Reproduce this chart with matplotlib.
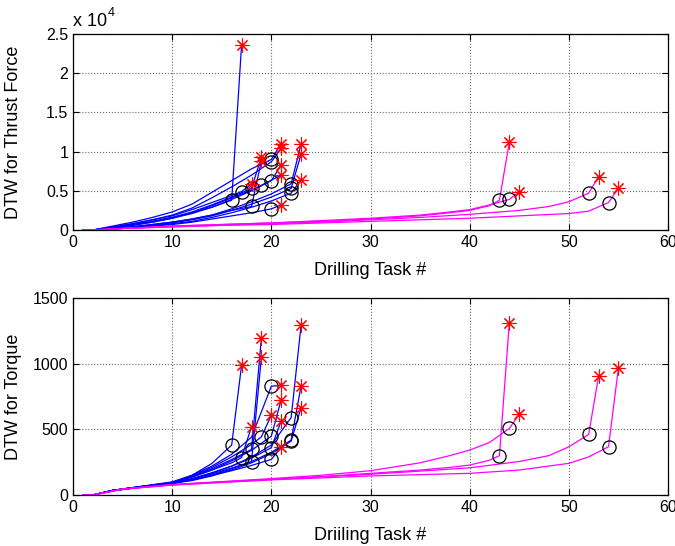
# DTW de fuerza de empuje y torque por tarea de taladrado

import matplotlib
matplotlib.use("Agg")
import matplotlib.pyplot as plt

plt.rcParams['font.family'] = ['Liberation Sans', 'DejaVu Sans']
plt.rcParams['font.size'] = 11.5

# curvas azules: tarea del circulo (alarma) y tarea del asterisco (fallo)
blue_circle_x = [16, 17, 18, 18, 19, 20, 20, 20, 20, 22, 22, 22]
thrust_star_x = [17, 18, 19, 19, 21, 21, 21, 21, 21, 23, 23, 23]
torque_star_x = [17, 18, 19, 19, 20, 21, 21, 21, 21, 23, 23, 23]
blue_grid = [1, 2, 4, 6, 8, 10, 12, 14, 16, 18, 20, 22]

# fuerza de empuje (x 10^4), puntos hasta el circulo
thrust_blue = [
    [0, 0, 0.03, 0.07, 0.11, 0.16, 0.22, 0.29, 0.38],
    [0, 0, 0.04, 0.08, 0.13, 0.18, 0.26, 0.35, 0.44, 0.49],
    [0, 0, 0.02, 0.04, 0.07, 0.10, 0.14, 0.19, 0.25, 0.30],
    [0, 0, 0.03, 0.07, 0.11, 0.16, 0.23, 0.32, 0.42, 0.53],
    [0, 0, 0.03, 0.06, 0.10, 0.15, 0.22, 0.31, 0.41, 0.51, 0.57],
    [0, 0, 0.05, 0.10, 0.16, 0.23, 0.33, 0.48, 0.63, 0.78, 0.90],
    [0, 0, 0.04, 0.08, 0.13, 0.19, 0.28, 0.41, 0.55, 0.70, 0.87],
    [0, 0, 0.03, 0.06, 0.10, 0.15, 0.21, 0.29, 0.39, 0.50, 0.63],
    [0, 0, 0.01, 0.03, 0.05, 0.07, 0.10, 0.14, 0.18, 0.22, 0.27],
    [0, 0, 0.02, 0.04, 0.07, 0.10, 0.14, 0.19, 0.27, 0.36, 0.46, 0.59],
    [0, 0, 0.02, 0.04, 0.06, 0.09, 0.13, 0.18, 0.25, 0.33, 0.42, 0.53],
    [0, 0, 0.02, 0.03, 0.05, 0.08, 0.11, 0.16, 0.22, 0.29, 0.37, 0.47],
]
thrust_blue_star = [2.36, 0.59, 0.88, 0.93, 0.70, 1.10, 1.04, 0.83, 0.32, 1.10, 0.97, 0.64]

torque_blue = [
    [0, 0, 35, 55, 75, 95, 150, 240, 380],
    [0, 0, 35, 55, 75, 95, 140, 190, 245, 285],
    [0, 0, 33, 52, 70, 88, 120, 160, 205, 253],
    [0, 0, 35, 55, 75, 95, 140, 200, 270, 347],
    [0, 0, 35, 55, 75, 95, 145, 210, 290, 385, 443],
    [0, 0, 36, 57, 78, 100, 150, 220, 310, 440, 828],
    [0, 0, 35, 55, 75, 95, 135, 190, 260, 340, 448],
    [0, 0, 34, 54, 73, 92, 125, 170, 220, 280, 360],
    [0, 0, 33, 52, 70, 88, 115, 150, 185, 225, 271],
    [0, 0, 34, 54, 73, 92, 120, 165, 220, 290, 380, 590],
    [0, 0, 33, 52, 71, 90, 115, 150, 200, 255, 325, 418],
    [0, 0, 33, 52, 70, 88, 110, 145, 190, 245, 315, 410],
]
torque_blue_star = [988, 519, 1051, 1198, 608, 836, 727, 565, 362, 1292, 831, 666]

# curvas magenta
mag_x = [
    [1, 2, 5, 10, 15, 20, 25, 30, 35, 38, 40, 42, 43],
    [1, 2, 5, 10, 15, 20, 25, 30, 35, 38, 40, 42, 44],
    [1, 2, 5, 10, 15, 20, 25, 30, 35, 40, 45, 48, 50, 52],
    [1, 2, 5, 10, 15, 20, 25, 30, 35, 40, 45, 50, 52, 54],
]
mag_star_x = [44, 45, 53, 55]
thrust_mag = [
    [0, 0, 0.02, 0.05, 0.07, 0.09, 0.11, 0.14, 0.18, 0.22, 0.25, 0.31, 0.38],
    [0, 0, 0.02, 0.05, 0.07, 0.09, 0.12, 0.15, 0.19, 0.23, 0.26, 0.32, 0.39],
    [0, 0, 0.02, 0.04, 0.06, 0.08, 0.10, 0.13, 0.16, 0.20, 0.25, 0.30, 0.36, 0.47],
    [0, 0, 0.02, 0.04, 0.06, 0.07, 0.09, 0.11, 0.13, 0.15, 0.18, 0.21, 0.24, 0.35],
]
thrust_mag_star = [1.12, 0.49, 0.68, 0.53]
torque_mag = [
    [0, 0, 45, 78, 100, 120, 140, 165, 190, 210, 228, 265, 299],
    [0, 0, 45, 80, 102, 125, 150, 185, 245, 300, 342, 400, 507],
    [0, 0, 45, 78, 98, 118, 138, 158, 182, 207, 255, 300, 367, 461],
    [0, 0, 44, 75, 95, 115, 130, 145, 155, 165, 190, 241, 290, 367],
]
torque_mag_star = [1312, 616, 904, 967]

asterisk = (8, 2, 0)


def draw(ax, blue_vals, blue_star_x, blue_star, mag_vals, mag_star):
    circles = []
    stars = []
    for cx, ys, sx, sy in zip(blue_circle_x, blue_vals, blue_star_x, blue_star):
        xs = [g for g in blue_grid if g < cx] + [cx]
        ax.plot(xs + [sx], ys + [sy], color='#0000ff', lw=0.9)
        circles.append((cx, ys[-1]))
        stars.append((sx, sy))
    for xs, ys, sx, sy in zip(mag_x, mag_vals, mag_star_x, mag_star):
        ax.plot(xs + [sx], ys + [sy], color='#ff00ff', lw=0.9)
        circles.append((xs[-1], ys[-1]))
        stars.append((sx, sy))
    ax.plot([c[0] for c in circles], [c[1] for c in circles], 'o', ls='none',
            mfc='none', mec='black', ms=9.5, mew=0.9)
    ax.plot([s[0] for s in stars], [s[1] for s in stars], ls='none',
            marker=asterisk, color='red', ms=10, mew=0.8)
    ax.set_xlim(0, 60)
    ax.grid(True, color='0.4', ls=':', lw=0.8)
    ax.tick_params(direction='in', top=True, right=True, length=4, width=0.8)
    for s in ax.spines.values():
        s.set_linewidth(0.9)


fig = plt.figure(figsize=(6.75, 5.46), dpi=100)
ax1 = fig.add_axes([73 / 675, 1 - 230 / 546, 595 / 675, 196 / 546])
ax2 = fig.add_axes([73 / 675, 1 - 495 / 546, 595 / 675, 197 / 546])

draw(ax1, thrust_blue, thrust_star_x, thrust_blue_star, thrust_mag, thrust_mag_star)
ax1.set_ylim(0, 2.5)
ax1.set_yticks([0, 0.5, 1, 1.5, 2, 2.5])
ax1.set_yticklabels(['0', '0.5', '1', '1.5', '2', '2.5'])
ax1.set_xlabel("Drilling Task #", fontsize=13)
ax1.set_ylabel("DTW for Thrust Force", fontsize=13)
ax1.xaxis.set_label_coords(0.5, -0.165)
ax1.yaxis.set_label_coords(-0.085, 0.5)
fig.text(73 / 675, 1 - 26 / 546, "x 10", fontsize=13)
fig.text(108 / 675, 1 - 16 / 546, "4", fontsize=9)

draw(ax2, torque_blue, torque_star_x, torque_blue_star, torque_mag, torque_mag_star)
ax2.set_ylim(0, 1500)
ax2.set_yticks([0, 500, 1000, 1500])
ax2.set_xlabel("Driiling Task #", fontsize=13)
ax2.set_ylabel("DTW for Torque", fontsize=13)
ax2.xaxis.set_label_coords(0.5, -0.16)
ax2.yaxis.set_label_coords(-0.085, 0.5)

fig.savefig("out.png", dpi=100)
